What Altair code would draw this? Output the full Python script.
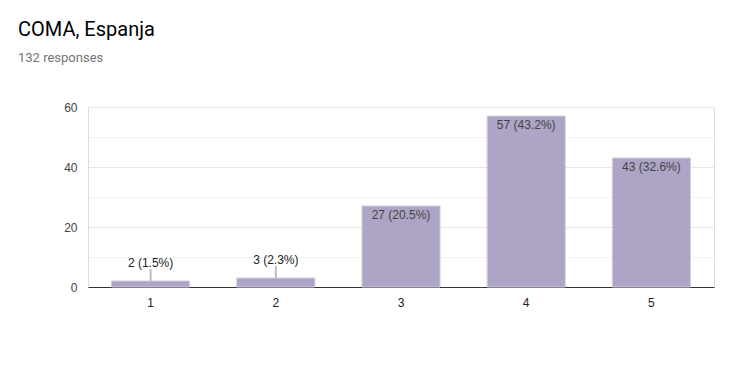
import altair as alt
import pandas as pd

categories = ["1", "2", "3", "4", "5"]
counts = [2, 3, 27, 57, 43]
percents = [1.5, 2.3, 20.5, 43.2, 32.6]
y_ticks = [0, 10, 20, 30, 40, 50, 60]

df = pd.DataFrame({
    "cat": categories,
    "count": counts,
    "pct": percents,
})
df["label"] = [f"{c} ({p}%)" for c, p in zip(counts, percents)]

x = alt.X("cat:N", sort=categories, title=None,
          scale=alt.Scale(paddingInner=0.376, paddingOuter=0.188),
          axis=alt.Axis(labelAngle=0, ticks=False, domainColor="#333333",
                        domainWidth=1, labelFont="Liberation Sans",
                        labelFontSize=12, labelColor="#222222", labelPadding=10))
y = alt.Y("count:Q", title=None,
          scale=alt.Scale(domain=[0, 60], nice=False),
          axis=alt.Axis(values=y_ticks, ticks=False, domain=False,
                        labelExpr="datum.value % 20 == 0 ? datum.label : ''",
                        gridColor={"condition": {"test": "datum.value % 20 == 0", "value": "#e6e6e6"},
                                   "value": "#f2f2f2"},
                        labelFont="Liberation Sans", labelFontSize=12,
                        labelColor="#444444", labelPadding=11))

base = alt.Chart(df)

bars = base.mark_bar(color="#ada4c6", stroke="#d3cde2", strokeWidth=1).encode(x=x, y=y)

inside = base.transform_filter("datum.count >= 10").mark_text(
    baseline="middle", dy=9, font="Liberation Sans", fontSize=12, color="#444444"
).encode(x=x, y=y, text="label:N")

outside = base.transform_filter("datum.count < 10").mark_text(
    baseline="middle", dy=-18, font="Liberation Sans", fontSize=12, color="#222222"
).encode(x=x, y=y, text="label:N")

leaders = base.transform_filter("datum.count < 10").mark_rule(
    color="#bbbbbb", strokeWidth=2, y2Offset=-12
).encode(x=x, y=y, y2="count:Q")

chart = alt.layer(bars, leaders, inside, outside).properties(
    width=626,
    height=180,
    autosize=alt.AutoSizeParams(type="none"),
    padding={"left": 80, "top": 99, "right": 13, "bottom": 65},
    title=alt.TitleParams(
        text="COMA, Espanja",
        subtitle="132 responses",
        anchor="start",
        frame="group",
        dx=-70,
        offset=36,
        font="Roboto",
        fontSize=20,
        fontWeight="normal",
        color="#000000",
        subtitleFont="Roboto",
        subtitleFontSize=13,
        subtitleColor="#757575",
        subtitlePadding=12,
    ),
).configure_view(stroke="#eeeeee", strokeWidth=1).configure(background="white")

chart.save("out.html", embed_options={"renderer": "svg", "actions": False})
